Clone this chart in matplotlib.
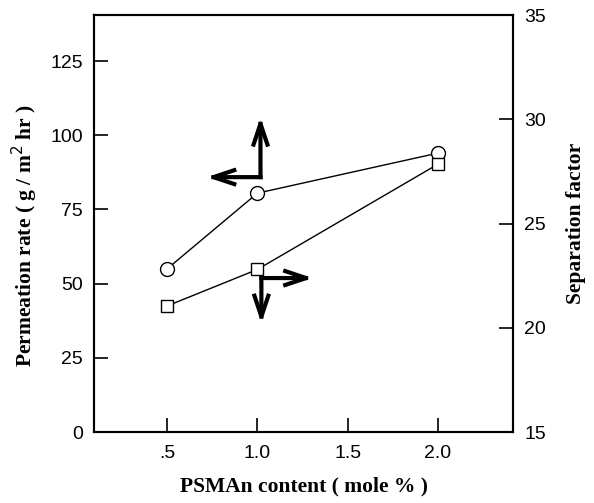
import matplotlib
matplotlib.use("Agg")
import matplotlib.pyplot as plt

x_vals = [0.5, 1.0, 2.0]
perm_rate = [55, 80.5, 94]
sep_factor = [21.05, 22.8, 27.85]
x_ticks = [0.5, 1.0, 1.5, 2.0]
x_ticklabels = [".5", "1.0", "1.5", "2.0"]
left_ticks = [0, 25, 50, 75, 100, 125]
right_ticks = [15, 20, 25, 30, 35]

tick_font = {"family": "Liberation Sans", "size": 14}
label_font = {"family": "Liberation Serif", "size": 15.5, "weight": "bold"}

fig = plt.figure(figsize=(5.94, 5.03), dpi=100)
ax = fig.add_axes([0.158, 0.141, 0.706, 0.829])
ax2 = ax.twinx()

ax.plot(x_vals, perm_rate, color="black", lw=1.0, marker="o", ms=10,
        mfc="white", mec="black", mew=1.0, zorder=3)
ax2.plot(x_vals, sep_factor, color="black", lw=1.0, marker="s", ms=9,
         mfc="white", mec="black", mew=1.0, zorder=3)

ax.set_xlim(0.094, 2.417)
ax.set_ylim(0, 140.5)
ax2.set_ylim(15, 35)

ax.set_xticks(x_ticks)
ax.set_xticklabels(x_ticklabels, fontdict=tick_font)
ax.set_yticks(left_ticks)
ax.set_yticklabels([str(t) for t in left_ticks], fontdict=tick_font)
ax2.set_yticks(right_ticks)
ax2.set_yticklabels([str(t) for t in right_ticks], fontdict=tick_font)

for a in (ax, ax2):
    a.tick_params(direction="in", length=10, width=1.2, pad=8)
    for s in a.spines.values():
        s.set_linewidth(1.5)
ax.tick_params(axis="x", pad=9)

ax.set_xlabel("PSMAn content ( mole % )", fontdict=label_font, labelpad=11)
ax.set_ylabel("Permeation rate ( g / m$^2$ hr )", fontdict=label_font, labelpad=7)
ax.yaxis.label.set_y(0.472)
ax2.set_ylabel("Separation factor", fontdict=label_font, labelpad=14)

arrow = dict(arrowstyle="->,head_length=1.5,head_width=0.5", lw=3.0,
             color="black", shrinkA=0, shrinkB=0, mutation_scale=10,
             capstyle="projecting")
# arrows pointing to left axis (circles)
ax.annotate("", xy=(0.72, 85.9), xytext=(1.017, 85.9), arrowprops=arrow)
ax.annotate("", xy=(1.017, 106.1), xytext=(1.017, 85.9), arrowprops=arrow)
# arrows pointing to right axis (squares)
ax.annotate("", xy=(1.306, 51.9), xytext=(1.022, 51.9), arrowprops=arrow)
ax.annotate("", xy=(1.022, 36.7), xytext=(1.022, 51.9), arrowprops=arrow)

fig.savefig("out.png", dpi=100)
